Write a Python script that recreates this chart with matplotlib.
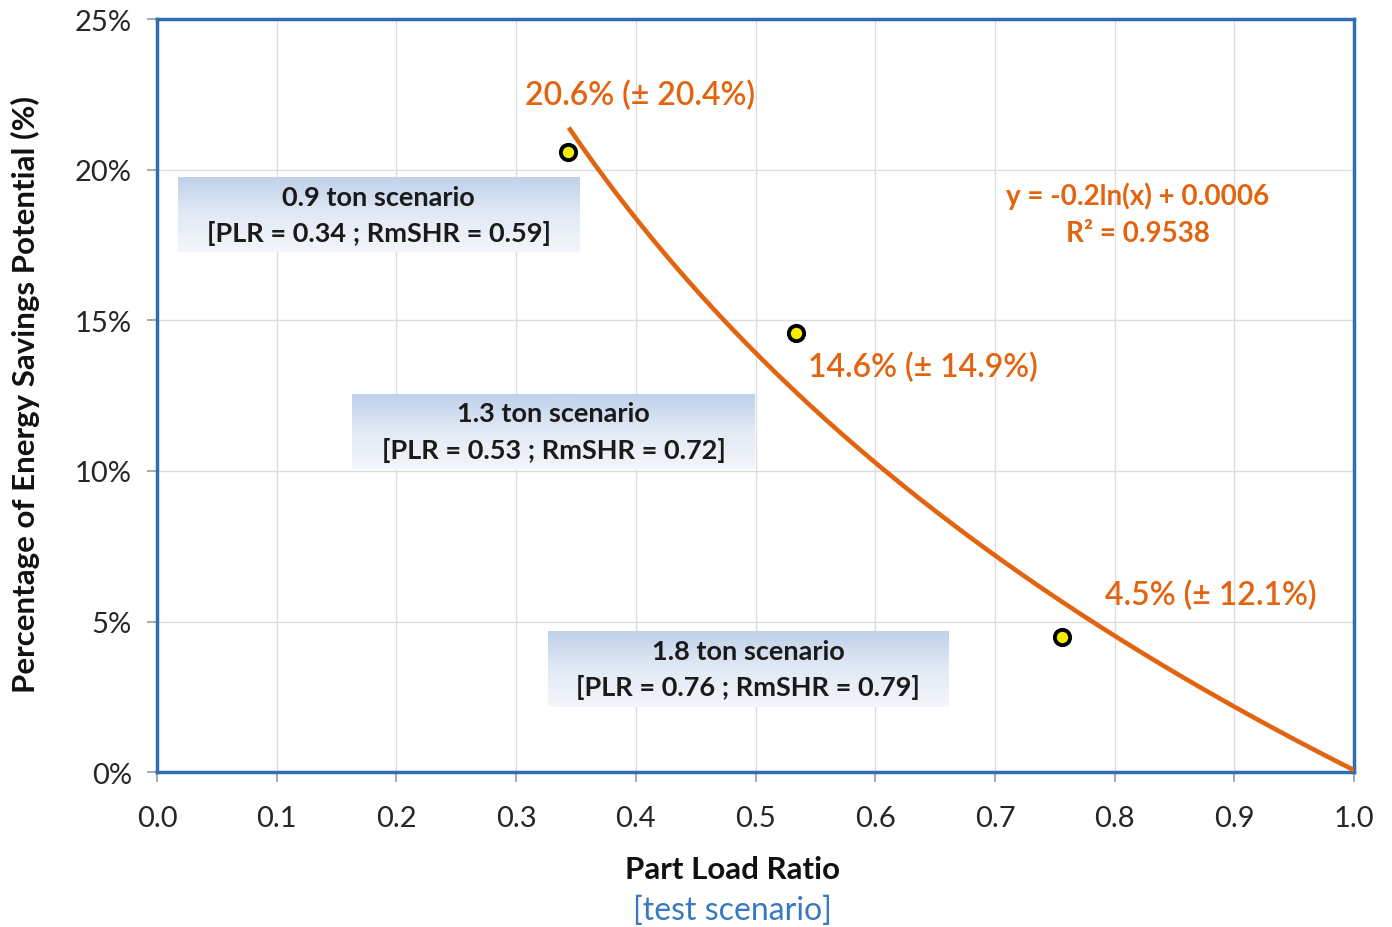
from matplotlib import pyplot as plt
from matplotlib.ticker import PercentFormatter
from matplotlib.colors import LinearSegmentedColormap
import numpy as np

# measured points (part load ratio, savings fraction)
plr = [0.343, 0.534, 0.756]
savings = [0.206, 0.146, 0.045]
point_labels = ["20.6% (\u00b1 20.4%)", "14.6% (\u00b1 14.9%)", "4.5% (\u00b1 12.1%)"]

# log trend line y = a*ln(x) + b as reported
fit_a = -0.2
fit_b = 0.0006
fit_r2 = 0.9538
fit_x0 = 0.345

scenarios = ["0.9 ton scenario\n[PLR = 0.34 ; RmSHR = 0.59]",
             "1.3 ton scenario\n[PLR = 0.53 ; RmSHR = 0.72]",
             "1.8 ton scenario\n[PLR = 0.76 ; RmSHR = 0.79]"]

plt.rcParams['font.family'] = ['Lato', 'DejaVu Sans']

orange = '#E2640F'
blue = '#2F6EB5'

fig = plt.figure(figsize=(13.92, 9.28), dpi=100)
ax = fig.add_axes([0.1128, 0.167, 0.86, 0.811])

ax.set_xticks(np.arange(0, 1.01, 0.1))
ax.set_yticks(np.arange(0, 0.251, 0.05))
ax.xaxis.set_major_formatter(lambda v, p: f"{v:.1f}")
ax.yaxis.set_major_formatter(PercentFormatter(1.0, decimals=0))
ax.grid(True, color='#dddddd', lw=1)
ax.set_axisbelow(True)
for s in ax.spines.values():
    s.set_color(blue)
    s.set_linewidth(2.5)
ax.tick_params(labelsize=21, colors='#999999', labelcolor='#262626', length=7, width=1.2)
ax.tick_params(axis='x', pad=17)
ax.tick_params(axis='y', pad=11)

# gradient scenario boxes (x0, x1, y0, y1 in data units)
boxes = [(0.0175, 0.353, 0.1726, 0.1975),
         (0.163, 0.4996, 0.1006, 0.1255),
         (0.3267, 0.661, 0.0216, 0.0468)]
grad = np.linspace(0, 1, 64).reshape(-1, 1)
cmap = LinearSegmentedColormap.from_list('boxgrad', ['#c0d1ea', '#e2eaf5', '#f3f6fa'])
for (x0, x1, y0, y1), txt in zip(boxes, scenarios):
    ax.imshow(grad, extent=(x0, x1, y0, y1), cmap=cmap, aspect='auto', origin='upper', zorder=1)
    ax.text((x0 + x1) / 2, (y0 + y1) / 2, txt, ha='center', va='center', fontsize=19.5,
            fontweight='bold', color='#1a1a1a', linespacing=1.55, zorder=2)

xs = np.linspace(fit_x0, 1.0, 200)
ax.plot(xs, fit_a * np.log(xs) + fit_b, color=orange, lw=3.3, zorder=3)
ax.plot(plr, savings, 'o', ms=11, mfc='#f5ec00', mec='black', mew=2.8, zorder=4)

label_pos = [(0.4035, 0.2251), (0.64, 0.1348), (0.8805, 0.0588)]
for (lx, ly), t in zip(label_pos, point_labels):
    ax.text(lx, ly, t, ha='center', va='center', fontsize=23, fontweight='semibold',
            color=orange, zorder=5)

ax.text(0.819, 0.1855, f"y = {fit_a:g}ln(x) + {fit_b:g}\nR\u00b2 = {fit_r2:g}", ha='center', va='center',
        fontsize=20, fontweight='bold', color=orange, linespacing=1.5)

ax.set_xlim(0, 1.0)
ax.set_ylim(0, 0.25)

fig.text(0.526, 0.062, "Part Load Ratio", ha='center', va='center', fontsize=22.5, fontweight='bold', color='#111111')
fig.text(0.526, 0.019, "[test scenario]", ha='center', va='center', fontsize=23, color='#3a78c0')
fig.text(0.018, 0.575, "Percentage of Energy Savings Potential (%)", rotation=90, ha='center', va='center',
         fontsize=22.5, fontweight='bold', color='#111111')

fig.savefig('out.png', dpi=100)
